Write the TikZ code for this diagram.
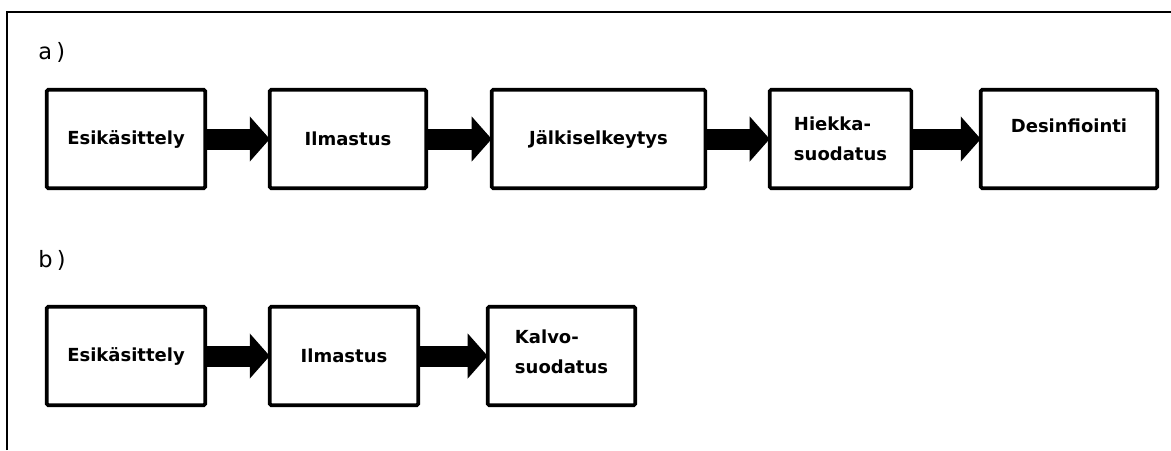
\documentclass[tikz,border=0pt]{standalone}
\usepackage{fontspec}
\setmainfont{DejaVu Sans}
\usetikzlibrary{arrows.meta}

\begin{document}
\begin{tikzpicture}[x=0.025cm,y=-0.025cm,
  laatikko/.style={draw,line width=2.6pt,rounded corners=1pt,inner sep=0pt,outer sep=0pt,
    minimum height=2.46cm,align=left,font=\fontsize{12.8}{21.5}\selectfont\bfseries},
  nuoli/.style={line width=0.525cm,-{Triangle[length=0.5cm,width=1.1cm]}},
  otsikko/.style={anchor=west,inner sep=0pt,font=\fontsize{16}{18}\selectfont}]
  \useasboundingbox (0,0) rectangle (1171,450);
  % kehys
  \draw[line width=1.4pt] (7,450)--(7,12)--(1171,12);
  % a) rivi
  \node[otsikko] (ta) at (38,52) {a\kern3pt)};
  \node[laatikko,minimum width=3.96cm] (a1) at (126,139) {Esikäsittely};
  \node[laatikko,minimum width=3.91cm] (a2) at (348,139) {Ilmastus};
  \node[laatikko,minimum width=5.34cm] (a3) at (598.5,139) {Jälkiselkeytys};
  \node[laatikko,minimum width=3.54cm] (a4) at (840.5,139) {Hiekka-\\suodatus};
  \node[laatikko,minimum width=4.41cm,text depth=19pt] (a5) at (1069,139) {Desinfiointi};
  \draw[nuoli] (a1)--(a2);
  \draw[nuoli] (a2)--(a3);
  \draw[nuoli] (a3)--(a4);
  \draw[nuoli] (a4)--(a5);
  % b) rivi
  \node[otsikko] (tb) at (38,260) {b\kern3pt)};
  \node[laatikko,minimum width=3.96cm] (b1) at (126,356) {Esikäsittely};
  \node[laatikko,minimum width=3.71cm] (b2) at (344,356) {Ilmastus};
  \node[laatikko,minimum width=3.69cm,text depth=6pt] (b3) at (561.5,356) {Kalvo-\\suodatus};
  \draw[nuoli] (b1)--(b2);
  \draw[nuoli] (b2)--(b3);
\end{tikzpicture}
\end{document}
